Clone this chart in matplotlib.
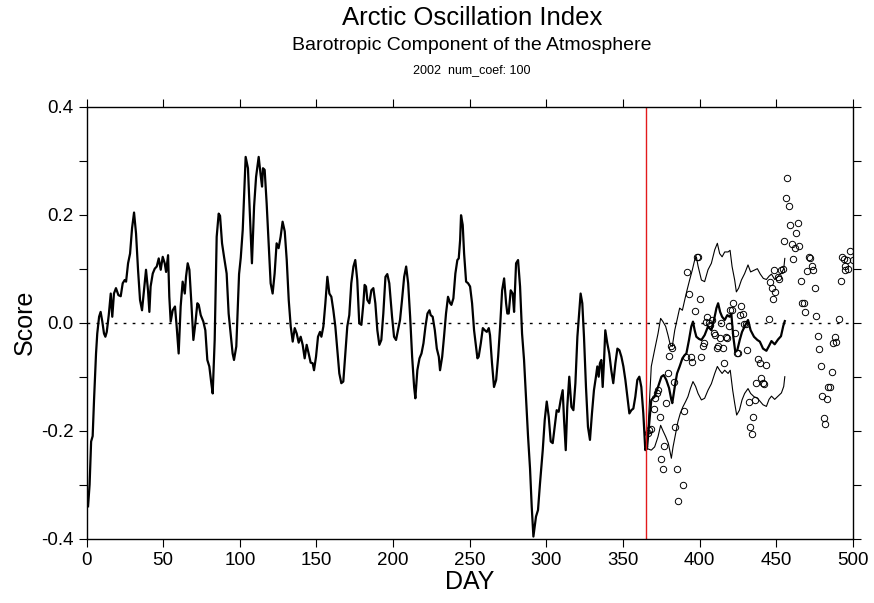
"""Arctic Oscillation Index: observed daily score, forecast band and verifying values."""
import numpy as np
import matplotlib
matplotlib.use('Agg')
import matplotlib.pyplot as plt
from matplotlib.ticker import MultipleLocator

plt.rcParams['font.family'] = ['Liberation Sans', 'DejaVu Sans']

# observed score (days 1-365)
obs_day = [1, 2, 3, 4, 4.9, 6.2, 7, 8.2, 9.2, 10.3, 11.4, 12.3, 13.2, 14.5, 15.8, 16.8, 17.9, 19.2,
           20.8, 22.3, 23.6, 24.9, 25.8, 27.1, 28.4, 29.7, 31, 32.3, 33.6, 34.9, 36.2, 37.5, 38.8,
           40.1, 41, 41.8, 43.2, 44.5, 45.8, 47.1, 48.4, 49.7, 51, 51.9, 53.2, 54, 54.9, 56.2, 57.7,
           58.8, 60.1, 61.4, 62.7, 64.1, 64.9, 66, 67.1, 68.4, 69.7, 71, 72.3, 73.2, 74.5, 76.2,
           77.5, 78.8, 80.1, 81.4, 82.3, 83.6, 84.9, 86.2, 87.1, 88.4, 89.7, 91.4, 92.7, 94, 95.3,
           96.2, 97.7, 99.5, 100.6, 101.9, 103.8, 105.3, 106.6, 107.9, 109.3, 110.6, 112.3, 113.6,
           114.5, 115.1, 116.2, 117.5, 118.8, 120.1, 121.4, 122.7, 124, 125.3, 126.6, 127.9, 129.3,
           130.6, 131.9, 133.2, 134.5, 135.8, 137.1, 138.4, 139.7, 141, 142.3, 143.6, 144.9, 146.2,
           147.5, 148.4, 149.7, 151, 152.3, 153.2, 154.5, 155.8, 157.1, 158.4, 159.7, 161, 162.3,
           163.6, 164.9, 166.2, 167.5, 168.8, 170.1, 171.4, 172.7, 174.1, 175.3, 176.6, 177.9,
           179.3, 180.6, 181.4, 182.3, 183.2, 184.5, 185.8, 187.1, 188.4, 189.7, 191, 192.3, 193.6,
           195, 196.2, 197.5, 199.3, 200.6, 201.9, 203.2, 204.5, 205.8, 207.2, 208.5, 209.8, 211.1,
           212.4, 213.7, 214.5, 215.8, 217.2, 218.5, 219.8, 221.1, 222.4, 223.7, 224.5, 225.8,
           227.2, 228.5, 229.8, 230.6, 232, 233.2, 234.5, 235.8, 237.2, 238, 239.3, 240.6, 241.9,
           242.8, 243.7, 244.3, 245.4, 246.3, 247.6, 248.9, 250.2, 251.5, 252.8, 254.1, 255, 255.8,
           257.2, 258.5, 259.8, 261.1, 262.4, 263.2, 264.5, 265.8, 267.2, 268.5, 269.8, 271.1,
           272.4, 273.7, 274.5, 275.4, 276.7, 278, 278.9, 280.2, 281.5, 282.8, 284.1, 285.4, 286.7,
           288, 289.3, 290.4, 291.5, 293.2, 294.5, 295.8, 297.6, 298.9, 300.2, 301.5, 302.8, 304.1,
           305.4, 306.7, 308, 309.3, 310.6, 311.5, 312.6, 313.6, 314.9, 316.3, 317.6, 318.9, 320.2,
           321.5, 322.3, 323.4, 324.5, 325.8, 327.1, 328.4, 329.7, 331, 332.3, 333.2, 334.1, 334.9,
           335.8, 336.7, 337.6, 338.4, 339.7, 341, 342.3, 343.6, 345, 346.3, 347.6, 348.9, 350.2,
           351.5, 352.8, 354.1, 355.4, 356.7, 358, 359.3, 360.6, 361.9, 363.2, 364.5, 365.5]
obs_val = [-0.34, -0.30, -0.22, -0.21, -0.143, -0.057, -0.02, 0.011, 0.02, 0.002, -0.02, -0.026,
           -0.017, 0.014, 0.054, 0.011, 0.054, 0.064, 0.051, 0.049, 0.073, 0.079, 0.076, 0.11,
           0.128, 0.175, 0.204, 0.165, 0.098, 0.042, 0.023, 0.06, 0.098, 0.06, 0.02, 0.067, 0.091,
           0.1, 0.104, 0.119, 0.098, 0.122, 0.11, 0.094, 0.125, 0.048, 0.002, 0.023, 0.03, -0.007,
           -0.057, 0.03, 0.076, 0.054, 0.085, 0.11, 0.098, 0.036, -0.032, -0.001, 0.036, 0.033,
           0.014, 0.002, -0.014, -0.069, -0.081, -0.112, -0.131, -0.032, 0.159, 0.202, 0.198,
           0.147, 0.122, 0.091, 0.017, -0.02, -0.057, -0.069, -0.044, 0.09, 0.12, 0.172, 0.307,
           0.286, 0.196, 0.11, 0.215, 0.27, 0.307, 0.273, 0.252, 0.286, 0.283, 0.221, 0.147, 0.073,
           0.054, 0.091, 0.147, 0.138, 0.159, 0.187, 0.169, 0.116, 0.042, -0.007, -0.035, -0.01,
           -0.02, -0.037, -0.026, -0.041, -0.066, -0.041, -0.057, -0.074, -0.075, -0.088, -0.063,
           -0.026, -0.017, -0.026, -0.007, 0.036, 0.085, 0.054, 0.048, 0.023, -0.007, -0.051,
           -0.094, -0.112, -0.109, -0.057, -0.007, 0.014, 0.073, 0.104, 0.116, 0.079, -0.001,
           -0.004, 0.036, 0.07, 0.067, 0.042, 0.036, 0.06, 0.064, 0.036, -0.014, -0.041, -0.032,
           0.017, 0.085, 0.09, 0.073, 0.011, -0.026, -0.032, -0.014, 0.005, 0.042, 0.085, 0.104,
           0.073, 0.011, -0.063, -0.119, -0.14, -0.088, -0.066, -0.057, -0.038, -0.007, 0.017,
           0.023, 0.014, 0.011, -0.014, -0.048, -0.063, -0.088, -0.063, -0.026, 0.017, 0.048,
           0.036, 0.033, 0.045, 0.091, 0.116, 0.119, 0.153, 0.199, 0.181, 0.128, 0.076, 0.073,
           0.067, 0.036, -0.014, -0.044, -0.066, -0.063, -0.038, -0.01, -0.014, -0.017, -0.01,
           -0.023, -0.075, -0.119, -0.106, -0.063, -0.007, 0.06, 0.082, 0.036, 0.017, 0.017, 0.06,
           0.054, 0.02, 0.11, 0.116, 0.067, -0.02, -0.069, -0.14, -0.21, -0.27, -0.34, -0.396,
           -0.359, -0.347, -0.298, -0.236, -0.18, -0.146, -0.174, -0.22, -0.223, -0.193, -0.162,
           -0.165, -0.143, -0.125, -0.18, -0.236, -0.156, -0.1, -0.156, -0.162, -0.112, -0.026,
           0.023, 0.054, 0.036, -0.026, -0.119, -0.193, -0.217, -0.168, -0.125, -0.1, -0.081, -0.1,
           -0.075, -0.069, -0.119, -0.069, -0.014, -0.038, -0.057, -0.088, -0.112, -0.075, -0.048,
           -0.051, -0.063, -0.081, -0.106, -0.137, -0.168, -0.162, -0.159, -0.137, -0.106, -0.1,
           -0.119, -0.168, -0.236, -0.23]

# forecast: middle (thick) line
mid_day = [365.6, 368.4, 370.6, 372.8, 375, 376.5, 378.2, 380, 381.5, 382.1, 383.7, 385.2, 386.9,
           388.7, 390.2, 391.3, 393, 394.5, 395.6, 396.7, 397.8, 399.5, 401.1, 403.2, 405.4,
           407.6, 409.3, 410.9, 412, 413.3, 414.6, 416.3, 418, 419.5, 420.6, 421.9, 423.2, 424.5,
           426.1, 427.6, 429.3, 431.5, 433.2, 435.4, 437.6, 439.2, 441.3, 443.5, 445.2, 446.8,
           448.9, 451.1, 453, 454.5, 455.5]
mid_val = [-0.233, -0.143, -0.137, -0.119, -0.1, -0.097, -0.106, -0.121, -0.143, -0.149, -0.119,
           -0.094, -0.081, -0.066, -0.06, -0.057, -0.032, -0.007, 0.002, -0.014, -0.026, -0.03,
           -0.032, -0.023, -0.007, -0.014, 0.005, 0.027, 0.036, 0.02, 0.011, 0.005, 0.014, 0.011,
           0.017, -0.026, -0.054, -0.051, -0.032, -0.017, -0.007, 0.005, -0.014, -0.026, -0.032,
           -0.035, -0.048, -0.052, -0.043, -0.034, -0.04, -0.031, -0.025, -0.006, 0.003]

# forecast: upper (thin) line
up_day = [365.6, 368.4, 370.6, 372.8, 374.5, 376, 377.8, 379.3, 380.8, 382.1, 383.7, 385.2, 386.9,
          388.7, 390.2, 391.7, 393.4, 395.2, 396.7, 397.8, 398.9, 401.1, 403.2, 405.4, 407.6,
          409.8, 411.5, 413, 414.6, 416.3, 418.5, 419.8, 421.1, 422.8, 423.9, 425.4, 427.2, 429.3,
          431.5, 433.2, 435.4, 437.6, 439.5, 441.5, 443.5, 445.2, 446.8, 448.9, 451.1, 453.3,
          454.8, 455.5]
up_val = [-0.233, -0.081, -0.05, -0.02, 0.008, 0.002, -0.007, -0.023, -0.041, -0.044, -0.014,
          0.005, 0.027, 0.023, 0.042, 0.06, 0.079, 0.098, 0.116, 0.122, 0.105, 0.079, 0.076,
          0.098, 0.11, 0.135, 0.147, 0.128, 0.122, 0.131, 0.131, 0.134, 0.104, 0.079, 0.057,
          0.064, 0.079, 0.091, 0.107, 0.094, 0.097, 0.1, 0.09, 0.082, 0.08, 0.086, 0.09, 0.08,
          0.086, 0.092, 0.1, 0.119]

# forecast: lower (thin) line
lo_day = [365.6, 368.4, 370.6, 372.8, 374.5, 376, 377.8, 379.5, 381.5, 382.6, 384.3, 385.8, 387.3,
          389, 390.8, 392.3, 393.9, 395.6, 397.3, 398.9, 401.1, 403.2, 405.4, 407.6, 409.8,
          411.5, 413, 414.6, 416.3, 418.5, 419.9, 421.5, 422.8, 424.1, 425.9, 427.6, 429.3,
          431.5, 433.2, 435.4, 437.6, 439.2, 441.3, 443.5, 445.2, 446.8, 448.9, 451.1, 453.3,
          454.8, 455.5]
lo_val = [-0.233, -0.236, -0.23, -0.211, -0.19, -0.2, -0.211, -0.223, -0.251, -0.23, -0.205,
          -0.183, -0.168, -0.156, -0.146, -0.137, -0.122, -0.109, -0.118, -0.131, -0.143, -0.14,
          -0.125, -0.113, -0.094, -0.081, -0.088, -0.094, -0.088, -0.094, -0.088, -0.125, -0.149,
          -0.171, -0.162, -0.143, -0.131, -0.122, -0.131, -0.137, -0.14, -0.145, -0.152, -0.155,
          -0.142, -0.136, -0.142, -0.136, -0.13, -0.118, -0.1]

# verifying values (open circles)
circ_day = [366, 367, 368, 370, 371, 372, 373, 374, 375, 376, 377, 378, 379, 380, 381, 382, 383,
            384, 385, 386, 389, 390, 391, 392, 393, 394, 395, 397, 398, 399, 400, 401, 402, 403,
            404, 405, 406, 407, 408, 409, 410, 411, 412, 413, 414, 415, 416, 417, 418, 419, 420,
            421, 422, 423, 424, 425, 426, 427, 428, 429, 430, 431, 432, 433, 434, 435, 436, 437,
            438, 439, 440, 441, 442, 443, 445, 446, 447, 448, 448.5, 449, 451, 452, 453, 454, 455,
            456, 457, 458, 459, 460, 461, 462, 463, 464, 465, 466, 467, 468, 468.5, 470, 471, 472,
            473, 474, 475, 476, 477, 478, 479, 480, 481, 482, 483, 484, 485, 486, 487, 488, 489,
            491, 492, 493, 494, 494.5, 495, 496, 497, 498, 500]
circ_val = [-0.205, -0.198, -0.196, -0.159, -0.14, -0.131, -0.125, -0.174, -0.253, -0.27, -0.228,
            -0.149, -0.093, -0.062, -0.043, -0.046, -0.11, -0.194, -0.27, -0.331, -0.301, -0.163,
            -0.063, 0.093, 0.054, -0.064, -0.072, 0.022, 0.122, 0.122, 0.043, -0.063, -0.044,
            -0.038, 0.002, 0.011, -0.001, -0.004, 0.005, -0.02, -0.023, -0.046, -0.044, -0.029,
            -0.001, -0.046, -0.075, -0.027, -0.029, -0.007, 0.023, 0.023, 0.037, -0.02, -0.057,
            -0.057, 0.014, 0.031, 0.016, -0.003, -0.003, -0.051, -0.146, -0.193, -0.206, -0.175,
            -0.143, -0.111, -0.068, -0.074, -0.103, -0.111, -0.114, -0.078, 0.006, 0.076, 0.064,
            0.043, 0.098, 0.056, 0.085, 0.08, 0.098, 0.099, 0.151, 0.23, 0.267, 0.216, 0.181,
            0.146, 0.118, 0.138, 0.167, 0.185, 0.142, 0.078, 0.037, 0.037, 0.02, 0.096, 0.122,
            0.119, 0.105, 0.098, 0.065, 0.013, -0.024, -0.048, -0.08, -0.136, -0.177, -0.188,
            -0.142, -0.119, -0.119, -0.091, -0.037, -0.026, -0.035, 0.007, 0.078, 0.122, 0.118,
            0.105, 0.098, 0.116, 0.1, 0.133, 0.117]

today = 365

fig = plt.figure(figsize=(8.74, 6.03), dpi=100)
ax = fig.add_axes([0.099, 0.1066, 0.877, 0.7165])

ax.plot([0, 500], [0, 0], color='black', lw=1.0, linestyle=(0, (2, 4.5)))
ax.plot(obs_day, obs_val, color='black', lw=1.6)
ax.plot(up_day, up_val, color='black', lw=0.8)
ax.plot(lo_day, lo_val, color='black', lw=0.8)
ax.plot(mid_day, mid_val, color='black', lw=1.6)
ax.plot(circ_day, circ_val, linestyle='none', marker='o', markersize=4.6,
        markerfacecolor='none', markeredgecolor='black', markeredgewidth=0.7)
ax.axvline(today, color='#e31a1c', lw=1.0)

ax.set_xlim(0, 500)
ax.set_ylim(-0.4, 0.4)
ax.xaxis.set_major_locator(MultipleLocator(50))
ax.yaxis.set_major_locator(MultipleLocator(0.2))
ax.yaxis.set_minor_locator(MultipleLocator(0.1))
ax.yaxis.set_major_formatter(plt.FuncFormatter(lambda v, p: '{:.1f}'.format(v).replace('-0.0', '0.0')))
ax.tick_params(which='both', direction='out', length=6, width=0.8, labelsize=13.5,
               top=True, right=True)
for s in ax.spines.values():
    s.set_linewidth(1.0)

ax.set_xlabel('DAY', fontsize=18, labelpad=1)
ax.set_ylabel('Score', fontsize=18, labelpad=3)

fig.text(0.54, 0.970, 'Arctic Oscillation Index', ha='center', va='center', fontsize=18.5)
fig.text(0.54, 0.924, 'Barotropic Component of the Atmosphere', ha='center', va='center', fontsize=14)
fig.text(0.54, 0.884, '2002  num_coef: 100', ha='center', va='center', fontsize=9)

plt.savefig('out.png', dpi=100)
